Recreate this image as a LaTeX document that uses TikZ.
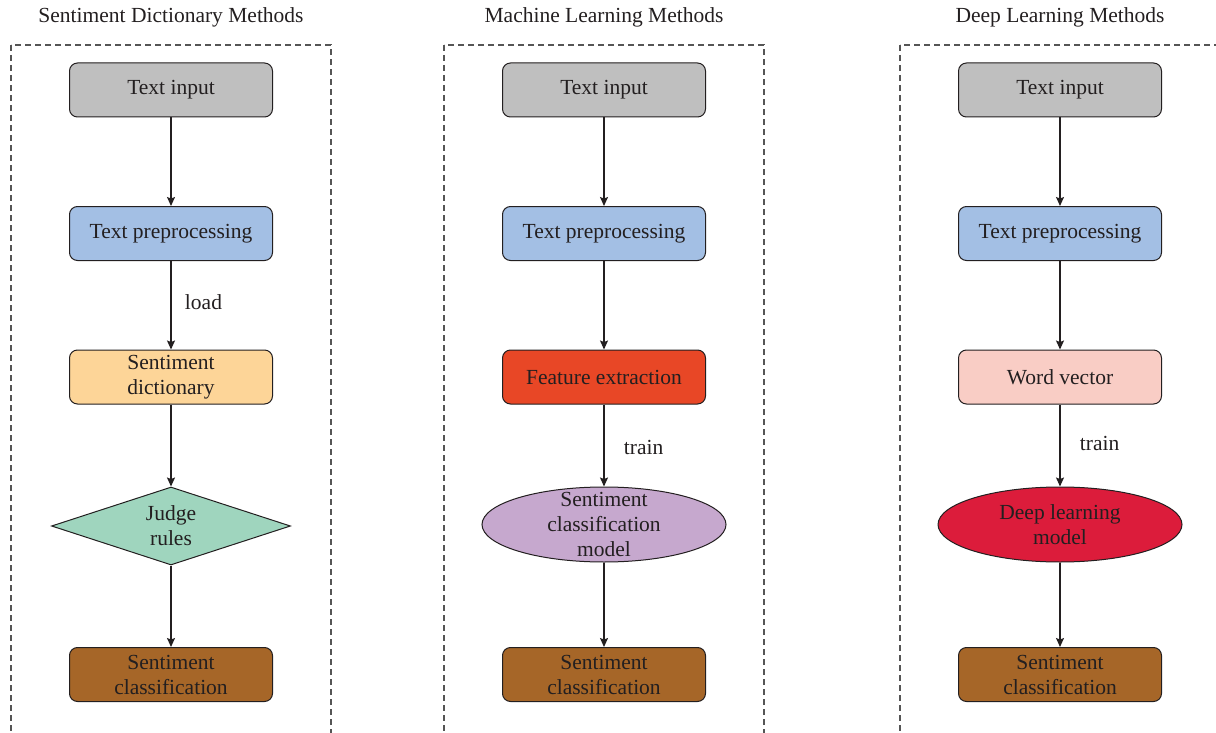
\documentclass[tikz,border=0pt]{standalone}
\usepackage{fontspec}
\setmainfont{Liberation Serif}
\usetikzlibrary{shapes.geometric,arrows.meta}
\definecolor{txt}{HTML}{231F20}
\definecolor{cgray}{HTML}{BFBFBF}
\definecolor{cblue}{HTML}{A3BFE4}
\definecolor{corange}{HTML}{FDD598}
\definecolor{cgreen}{HTML}{9FD5BE}
\definecolor{cbrown}{HTML}{A66628}
\definecolor{cred}{HTML}{E84726}
\definecolor{clilac}{HTML}{C6A8CE}
\definecolor{cpink}{HTML}{F9CDC5}
\definecolor{ccrimson}{HTML}{DC1C3B}
\definecolor{dashc}{HTML}{555555}
\tikzset{
  fnt/.style={font=\fontsize{21.5}{25}\selectfont, text=txt},
  box/.style={fnt, draw=txt, line width=1pt, rounded corners=8pt, minimum width=203, minimum height=54, align=center, inner sep=0pt},
  ellnode/.style={draw=txt, line width=1pt, ellipse, minimum width=244, minimum height=75, inner sep=0pt},
  dianode/.style={draw=txt, line width=1pt, diamond, minimum width=239, minimum height=78, inner sep=0pt},
  inlabel/.style={fnt, align=center},
  arr/.style={draw=txt, line width=1.3pt, -{Stealth[length=9pt,width=8pt,inset=1.5pt]}},
  dashbox/.style={draw=dashc, line width=1.1pt, dash pattern=on 6pt off 4pt},
  title/.style={fnt},
  lbl/.style={fnt}
}
\begin{document}
\begin{tikzpicture}[x=1pt,y=-1pt]
\useasboundingbox (0,0) rectangle (1216,733);
\begin{scope}
\clip (0,0) rectangle (1216,733);
\draw[dashbox] (11,45) rectangle (331,760);
\draw[dashbox] (444,45) rectangle (764,760);
\draw[dashbox] (900,45) rectangle (1240,760);
\end{scope}

\node[title] (t1) at (171,17) {Sentiment Dictionary Methods};
\node[title] (t2) at (604,17) {Machine Learning Methods};
\node[title] (t3) at (1060,17) {Deep Learning Methods};

% column 1
\node[box, fill=cgray] (a1) at (171,90) {Text input};
\node[box, fill=cblue] (a2) at (171,233.5) {Text preprocessing};
\node[box, fill=corange] (a3) at (171,377) {Sentiment\\dictionary};
\node[dianode, fill=cgreen, label={[inlabel]center:Judge\\rules}] (a4) at (171,526) {};
\node[box, fill=cbrown] (a5) at (171,674.5) {Sentiment\\classification};
\draw[arr] (a1) -- (a2);
\draw[arr] (a2) -- node[lbl, right=10pt, yshift=3pt] (l1) {load} (a3);
\draw[arr] (a3) -- (a4);
\draw[arr] (a4) -- (a5);

% column 2
\node[box, fill=cgray] (b1) at (604,90) {Text input};
\node[box, fill=cblue] (b2) at (604,233.5) {Text preprocessing};
\node[box, fill=cred] (b3) at (604,377) {Feature extraction};
\node[ellnode, fill=clilac, label={[inlabel]center:Sentiment\\classification\\model}] (b4) at (604,524.5) {};
\node[box, fill=cbrown] (b5) at (604,674.5) {Sentiment\\classification};
\draw[arr] (b1) -- (b2);
\draw[arr] (b2) -- (b3);
\draw[arr] (b3) -- node[lbl, right=16pt, yshift=-2pt] (l2) {train} (b4);
\draw[arr] (b4) -- (b5);

% column 3
\node[box, fill=cgray] (c1) at (1060,90) {Text input};
\node[box, fill=cblue] (c2) at (1060,233.5) {Text preprocessing};
\node[box, fill=cpink] (c3) at (1060,377) {Word vector};
\node[ellnode, fill=ccrimson, label={[inlabel]center:Deep learning\\model}] (c4) at (1060,524.5) {};
\node[box, fill=cbrown] (c5) at (1060,674.5) {Sentiment\\classification};
\draw[arr] (c1) -- (c2);
\draw[arr] (c2) -- (c3);
\draw[arr] (c3) -- node[lbl, right=16pt, yshift=2pt] (l3) {train} (c4);
\draw[arr] (c4) -- (c5);
\end{tikzpicture}
\end{document}
